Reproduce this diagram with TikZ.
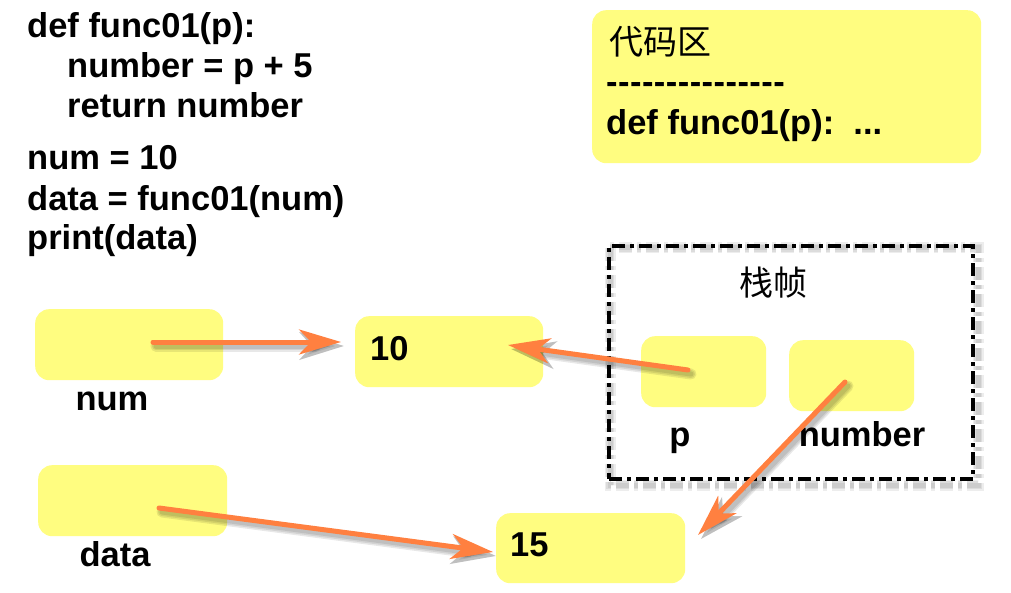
\documentclass[tikz,border=0pt]{standalone}
\usepackage{fontspec}
\setmainfont{Liberation Sans}
\newfontfamily\cjk{Noto Sans CJK SC}
\usetikzlibrary{arrows.meta,calc}
\definecolor{boxyellow}{RGB}{255,253,128}
\definecolor{arroworange}{RGB}{255,128,64}
\newcommand\hy{\mbox{-}\hspace{0.45pt}}
\pgfdeclarelayer{bg}
\pgfsetlayers{bg,main}
\begin{document}
\begin{tikzpicture}[x=1pt,y=-1pt,
  box/.style={fill=boxyellow, rounded corners=14pt, inner sep=0pt, anchor=north west},
  code/.style={anchor=base west, font=\fontsize{34.5}{40}\selectfont\bfseries, inner sep=0pt},
  lbl/.style={anchor=base, font=\fontsize{34.5}{40}\selectfont\bfseries, inner sep=0pt},
  zh/.style={font=\cjk\fontsize{34}{40}\selectfont, inner sep=0pt},
  frame/.style={draw=black, line width=4pt, dash pattern=on 13pt off 5pt on 4pt off 5pt, anchor=north west, inner sep=0pt},
  frameshadow/.style={draw=black, opacity=0.07, dash pattern=on 13pt off 5pt on 4pt off 5pt},
  arr/.style={draw=arroworange, line width=5pt, line cap=round, -{Stealth[length=42pt,width=25pt,inset=12pt]}},
  arrshadow/.style={draw=black, opacity=0.09, line cap=round, -{Stealth[length=44pt,width=27pt,inset=12pt]}, transform canvas={shift={(3pt,-4pt)}}}
]
\begin{pgfonlayer}{bg}
\fill[white] (0,0) rectangle (1011,593);
\end{pgfonlayer}
\useasboundingbox (0,0) rectangle (1011,593);

% code text
\node[code] (c1) at (27,38)  {def func01(p):};
\node[code] (c2) at (67,78)  {number = p + 5};
\node[code] (c3) at (67,118) {return number};
\node[code] (c4) at (27,170) {num = 10};
\node[code] (c5) at (27,211) {data = func01(num)};
\node[code] (c6) at (27,250) {print(data)};

% code zone
\node[box, minimum width=389pt, minimum height=153pt] (zone) at (592,10) {};
\node[zh] (zonetitle) at (660,42) {代码区};
\node[code] (zonedash) at (606,94) {\hy\hy\hy\hy\hy\hy\hy\hy\hy\hy\hy\hy\hy\hy\hy};
\node[code] (zonedef) at (606,135) {def func01(p):~~...};

% stack frame
\node[frame, minimum width=364pt, minimum height=233pt] (frame) at (607,244) {};
\begin{pgfonlayer}{bg}
\foreach \w in {11,8,5}
  \draw[frameshadow, line width=\w pt] ($(frame.north west)+(3,4)$) rectangle ($(frame.south east)+(3,4)$);
\end{pgfonlayer}
\node[zh] (frametitle) at (773,283) {栈帧};

% value boxes
\node[box, minimum width=188pt, minimum height=71pt] (numbox) at (35,309) {};
\node[lbl] (numlbl) at (112,410) {num};
\node[box, minimum width=189pt, minimum height=71pt] (databox) at (38,465) {};
\node[lbl] (datalbl) at (115,566) {data};
\node[box, minimum width=188pt, minimum height=71pt] (tenbox) at (355,316) {};
\node[code] (ten) at (370,360) {10};
\node[box, minimum width=189pt, minimum height=70pt] (fifbox) at (496,513) {};
\node[code] (fif) at (510,556) {15};
\node[box, minimum width=125pt, minimum height=71pt] (pbox) at (641,336) {};
\node[lbl] (plbl) at (680,446) {p};
\node[box, minimum width=125pt, minimum height=71pt] (nbbox) at (789,340) {};
\node[lbl] (nblbl) at (862,446) {number};

% arrow ends
\coordinate (numref) at (153,342);
\coordinate (tenin)  at (341,342);
\coordinate (pref)   at (688,370);
\coordinate (tenend) at (508,345);
\coordinate (dataref) at (159,508);
\coordinate (fifin)  at (493,552);
\coordinate (nbref)  at (845,382);
\coordinate (fifend) at (698,535);

% arrow shadows (soft)
\foreach \w in {11,8,5} {
  \draw[arrshadow, line width=\w pt] (numref) -- (tenin);
  \draw[arrshadow, line width=\w pt] (pref) -- (tenend);
  \draw[arrshadow, line width=\w pt] (dataref) -- (fifin);
  \draw[arrshadow, line width=\w pt] (nbref) -- (fifend);
}
% arrows
\draw[arr] (numref) -- (tenin);
\draw[arr] (pref) -- (tenend);
\draw[arr] (dataref) -- (fifin);
\draw[arr] (nbref) -- (fifend);
\end{tikzpicture}
\end{document}
